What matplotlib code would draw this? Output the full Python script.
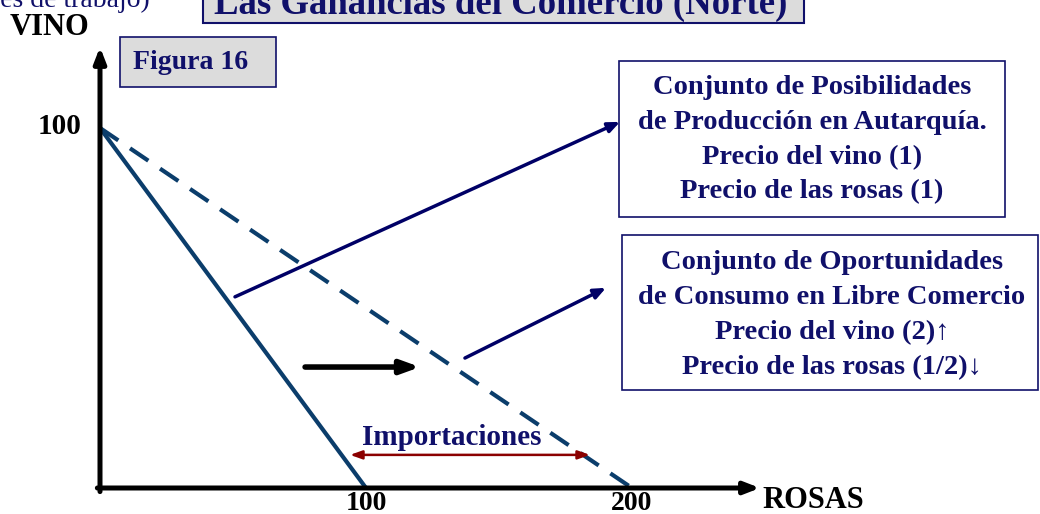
import matplotlib.pyplot as plt
from matplotlib.patches import Rectangle

# data (rosas en x, vino en y)
vino_max = 100
rosas_autarquia = 100
rosas_comercio = 200
x_ticks = [100, 200]
importaciones = [94, 184.2]

NAVY = '#10106a'
LINE = '#0b3d6b'
RED = '#8b0000'
GRAY = '#dcdcdc'

plt.rcParams['font.family'] = ['Liberation Serif', 'DejaVu Serif']
plt.rcParams['font.weight'] = 'bold'

fig = plt.figure(figsize=(10.4, 5.14), dpi=100)
ax = fig.add_axes([0, 0, 1, 1])
# 1 unit of roses ~2.66 px, 1 unit of wine ~3.6 px
ax.set_xlim(-100 / 2.66, 940 / 2.66)
ax.set_ylim(-26 / 3.6, 488 / 3.6)
ax.axis('off')

# axes with arrows
ax.annotate('', xy=(0, 122.5), xytext=(0, -1),
            arrowprops=dict(arrowstyle='-|>,head_length=0.9,head_width=0.35',
                            color='black', lw=3.6, shrinkA=0, shrinkB=0))
ax.annotate('', xy=(248.1, 0), xytext=(-1, 0),
            arrowprops=dict(arrowstyle='-|>,head_length=0.9,head_width=0.35',
                            color='black', lw=3.6, shrinkA=0, shrinkB=0))

# frontiers
ax.plot([0, rosas_autarquia], [vino_max, 0], color=LINE, lw=3.0, solid_capstyle='butt')
ax.plot([0, rosas_comercio], [vino_max, 0], color=LINE, lw=3.0,
        dashes=(5.3, 3.4), solid_capstyle='butt')

# labels
ax.text(-6.8, 100.5, '100', ha='right', va='center', fontsize=21, color='black')
for t in x_ticks:
    ax.text(t, -4.2, str(t), ha='center', va='center', fontsize=20, color='black')
ax.text(248.9, -3.5, 'ROSAS', ha='left', va='center', fontsize=22, color='black')
ax.text(-33.8, 128, 'VINO', ha='left', va='center', fontsize=22, color='black')
ax.text(18.8, 135.3, '(Unidades de trabajo)', ha='right', va='center',
        fontsize=20, color=NAVY, fontweight='normal')

# title box (cut at top)
ax.add_patch(Rectangle((38.7, 129.2), 225.9, 10, facecolor=GRAY, edgecolor=NAVY, lw=1.5))
ax.text(150.5, 131.7, 'Las Ganancias del Comercio (Norte)', ha='center', va='baseline',
        fontsize=26.5, color=NAVY)

# Figura 16 box
ax.add_patch(Rectangle((7.5, 111.4), 58.6, 13.9, facecolor=GRAY, edgecolor=NAVY, lw=1.2))
ax.text(34.2, 118.3, 'Figura 16', ha='center', va='center', fontsize=20, color=NAVY)

# info boxes
ax.add_patch(Rectangle((195.1, 75.3), 145.1, 43.3, facecolor='white', edgecolor=NAVY, lw=1.2))
box1 = ['Conjunto de Posibilidades', 'de Producción en Autarquía.',
        'Precio del vino (1)', 'Precio de las rosas (1)']
for i, s in enumerate(box1):
    ax.text(267.7, 111.3 - i * 9.7, s, ha='center', va='center', fontsize=20.5, color=NAVY)

ax.add_patch(Rectangle((196.2, 27.2), 156.4, 43.1, facecolor='white', edgecolor=NAVY, lw=1.2))
box2 = ['Conjunto de Oportunidades', 'de Consumo en Libre Comercio',
        'Precio del vino (2)↑', 'Precio de las rosas (1/2)↓']
for i, s in enumerate(box2):
    ax.text(275.2, 62.6 - i * 9.7, s, ha='center', va='center', fontsize=20.5, color=NAVY)

# pointer arrows
ax.annotate('', xy=(195.5, 101.7), xytext=(50.75, 53.1),
            arrowprops=dict(arrowstyle='-|>,head_length=0.7,head_width=0.3',
                            color='#000066', lw=2.5, shrinkA=0, shrinkB=0))
ax.annotate('', xy=(190.2, 55.6), xytext=(137.2, 36.1),
            arrowprops=dict(arrowstyle='-|>,head_length=0.7,head_width=0.3',
                            color='#000066', lw=2.5, shrinkA=0, shrinkB=0))
ax.annotate('', xy=(120.3, 33.6), xytext=(77.1, 33.6),
            arrowprops=dict(arrowstyle='-|>,head_length=1.1,head_width=0.4',
                            color='black', lw=4, shrinkA=0, shrinkB=0))

# importaciones
ax.annotate('', xy=(importaciones[1], 9.2), xytext=(importaciones[0], 9.2),
            arrowprops=dict(arrowstyle='<|-|>,head_length=0.7,head_width=0.25',
                            color=RED, lw=1.8, shrinkA=0, shrinkB=0))
ax.text(132.3, 14, 'Importaciones', ha='center', va='center', fontsize=21, color=NAVY)

fig.savefig('out.png', dpi=100)
